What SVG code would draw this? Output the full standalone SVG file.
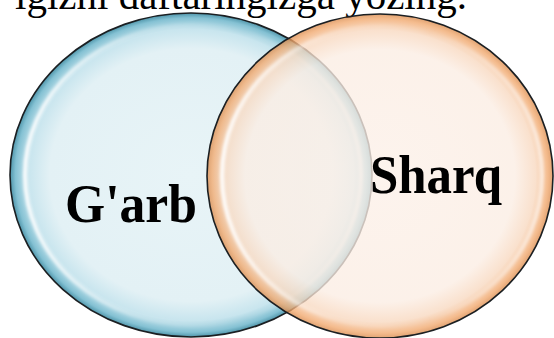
<svg xmlns="http://www.w3.org/2000/svg" width="554" height="338" viewBox="0 0 554 338">
<defs>
<radialGradient id="gBlue" cx="0.5" cy="0.5" r="0.5">
<stop offset="0" stop-color="#e8f4f7"/>
<stop offset="0.78" stop-color="#e3f1f5"/>
<stop offset="0.9" stop-color="#c8e5ee"/>
<stop offset="0.97" stop-color="#84c1d3"/>
<stop offset="1" stop-color="#4f95aa"/>
</radialGradient>
<radialGradient id="gOrange" cx="0.5" cy="0.5" r="0.5">
<stop offset="0" stop-color="#fcf0e8"/>
<stop offset="0.78" stop-color="#fbede3"/>
<stop offset="0.9" stop-color="#f8d8bf"/>
<stop offset="0.97" stop-color="#f1a86d"/>
<stop offset="1" stop-color="#d98a4c"/>
</radialGradient>
<linearGradient id="hl" x1="0" y1="0" x2="1" y2="0">
<stop offset="0" stop-color="#ffffff" stop-opacity="0.95"/>
<stop offset="0.35" stop-color="#ffffff" stop-opacity="0.2"/>
<stop offset="0.65" stop-color="#ffffff" stop-opacity="0"/>
<stop offset="1" stop-color="#ffffff" stop-opacity="0.6"/>
</linearGradient>
<filter id="blur" x="-10%" y="-10%" width="120%" height="120%">
<feGaussianBlur stdDeviation="1.5"/>
</filter>
</defs>
<style>
.title{font-family:"Liberation Serif","Times New Roman",serif;font-size:41px;fill:#000}
.lbl{font-family:"Liberation Serif","Times New Roman",serif;font-size:54px;font-weight:bold;fill:#000}
.outline{fill:none;stroke:#1b1f22;stroke-width:1.6}
.shine{fill:none;stroke:url(#hl);stroke-width:4;filter:url(#blur)}
</style>
<rect width="554" height="338" fill="#ffffff"/>
<text class="title" x="467" y="9" text-anchor="end">igizni daftaringizga yozing.</text>
<g id="garb">
<ellipse cx="191" cy="175" rx="181" ry="162" fill="url(#gBlue)"/>
<ellipse class="shine" cx="193" cy="175" rx="168" ry="150"/>
<ellipse class="outline" cx="191" cy="175" rx="181" ry="162"/>
<text class="lbl" x="65" y="222" textLength="132" lengthAdjust="spacingAndGlyphs">G'arb</text>
</g>
<g id="sharq">
<ellipse cx="380" cy="176" rx="173" ry="162" fill="url(#gOrange)" fill-opacity="0.78"/>
<ellipse class="shine" cx="382" cy="176" rx="160" ry="150"/>
<ellipse class="outline" cx="380" cy="176" rx="173" ry="162"/>
<text class="lbl" x="370" y="193" textLength="132" lengthAdjust="spacingAndGlyphs">Sharq</text>
</g>
<g id="connectors"/>
</svg>
